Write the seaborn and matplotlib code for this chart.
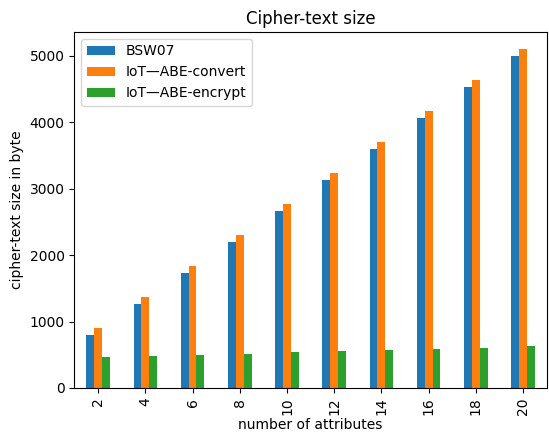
import matplotlib
matplotlib.use("Agg")
import matplotlib.pyplot as plt
import seaborn as sns
import pandas as pd

attributes = [2, 4, 6, 8, 10, 12, 14, 16, 18, 20]
bsw07 = [795, 1265, 1730, 2200, 2665, 3133, 3600, 4066, 4533, 5000]
iot_convert = [900, 1370, 1835, 2305, 2770, 3238, 3705, 4172, 4639, 5105]
iot_encrypt = [467, 482, 497, 512, 542, 557, 572, 587, 602, 632]
series_names = ["BSW07", "IoT\u2014ABE-convert", "IoT\u2014ABE-encrypt"]

rows = []
for name, vals in zip(series_names, [bsw07, iot_convert, iot_encrypt]):
    for a, v in zip(attributes, vals):
        rows.append({"attr": str(a), "value": v, "series": name})
df = pd.DataFrame(rows)

fig = plt.figure(figsize=(5.49, 4.32), dpi=100)
ax = fig.add_axes([0.1357, 0.102, 0.860, 0.824])
sns.barplot(data=df, x="attr", y="value", hue="series",
            order=[str(a) for a in attributes], hue_order=series_names,
            palette=["#1f77b4", "#ff7f0e", "#2ca02c"], saturation=1,
            width=0.5, ax=ax, errorbar=None)
ax.set_xlim(-0.5, len(attributes) - 0.5)
ax.set_ylim(0, 5360)
ax.set_yticks([0, 1000, 2000, 3000, 4000, 5000])
ax.tick_params(axis="x", rotation=90)
ax.set_xlabel("number of attributes", labelpad=2)
ax.set_ylabel("cipher-text size in byte")
ax.set_title("Cipher-text size")
ax.legend(loc="upper left", title=None)
fig.savefig("out.png", dpi=100)
